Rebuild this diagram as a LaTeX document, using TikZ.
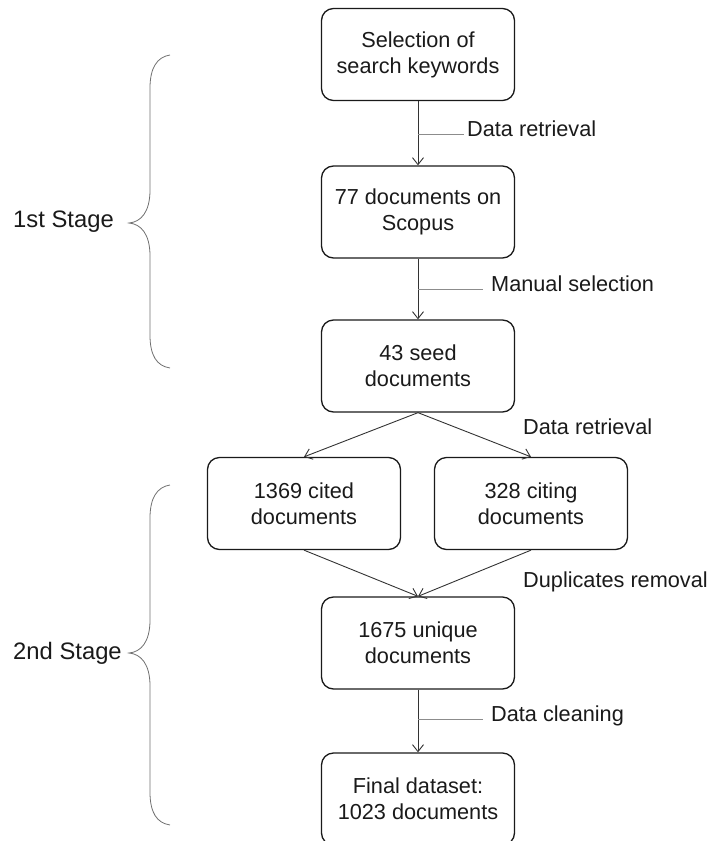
\documentclass[tikz,border=0pt]{standalone}
\usepackage{fontspec}
\setmainfont{Liberation Sans}
\usetikzlibrary{arrows.meta}
\definecolor{ink}{HTML}{1A1A1A}
\definecolor{flowgray}{HTML}{333333}
\definecolor{branchgray}{HTML}{8C8C8C}
\definecolor{bracegray}{HTML}{707070}
\begin{document}
\begin{tikzpicture}[x=1pt,y=-1pt,
  stepbox/.style={draw=ink, line width=1.3pt, rounded corners=12pt,
    minimum width=193pt, minimum height=92pt, align=center, inner sep=0pt,
    text=ink, font=\fontsize{21.7}{26}\selectfont},
  flow/.style={draw=flowgray, line width=0.9pt,
    -{Straight Barb[length=7pt,width=11pt]}},
  branch/.style={draw=branchgray, line width=0.8pt},
  steplabel/.style={anchor=west, inner xsep=3pt, inner ysep=0pt, text=ink,
    text height=0.75em, text depth=0.25em,
    font=\fontsize{21.7}{26}\selectfont},
  freelabel/.style={anchor=west, inner sep=0pt, text=ink,
    font=\fontsize{21.7}{26}\selectfont},
  stage/.style={inner sep=0pt, text=ink, font=\fontsize{23.8}{28}\selectfont},
  brace/.style={draw=bracegray, line width=0.8pt}
]
\useasboundingbox (0,0) rectangle (711,841);

% process boxes
\node[stepbox] (b1) at (418,54.5) {Selection of\\search keywords};
\node[stepbox] (b2) at (418,212) {77 documents on\\Scopus};
\node[stepbox] (b3) at (418,366) {43 seed\\documents};
\node[stepbox] (b4) at (304,503.5) {1369 cited\\documents};
\node[stepbox] (b5) at (531,503.5) {328 citing\\documents};
\node[stepbox] (b6) at (418,643) {1675 unique\\documents};
\node[stepbox] (b7) at (418,799) {Final dataset:\\1023 documents};

% connectors
\draw[flow] (b1) -- (b2);
\draw[flow] (b2) -- (b3);
\draw[flow] (b3.south) -- (b4.north);
\draw[flow] (b3.south) -- (b5.north);
\draw[flow] (b4.south) -- (b6.north);
\draw[flow] (b5.south) -- (b6.north);
\draw[flow] (b6) -- (b7);

% step annotations
\node[steplabel] (l1) at (464,134) {Data retrieval};
\node[steplabel, inner xsep=8pt] (l2) at (483,289) {Manual selection};
\node[freelabel] (l3) at (523,427) {Data retrieval};
\node[freelabel] (l4) at (523,582) {Duplicates removal};
\node[steplabel, inner xsep=8pt] (l5) at (483,719) {Data cleaning};
\draw[branch] (b1.south |- l1.west) -- (l1.west);
\draw[branch] (b2.south |- l2.west) -- (l2.west);
\draw[branch] (b6.south |- l5.west) -- (l5.west);

% stage braces
\draw[brace] (170,55) .. controls (157,57) and (150,68) .. (150,88)
  -- (150,190) .. controls (150,212) and (141,222) .. (129,223)
  .. controls (141,224) and (150,234) .. (150,256)
  -- (150,335) .. controls (150,356) and (157,366) .. (170,368);
\draw[brace] (170,485) .. controls (157,487) and (150,498) .. (150,518)
  -- (150,620) .. controls (150,642) and (141,652) .. (129,653)
  .. controls (141,654) and (150,664) .. (150,686)
  -- (150,792) .. controls (150,813) and (157,823) .. (170,825);
\node[stage] (s1) at (63.5,222) {1st Stage};
\node[stage] (s2) at (67.5,653) {2nd Stage};
\end{tikzpicture}
\end{document}
